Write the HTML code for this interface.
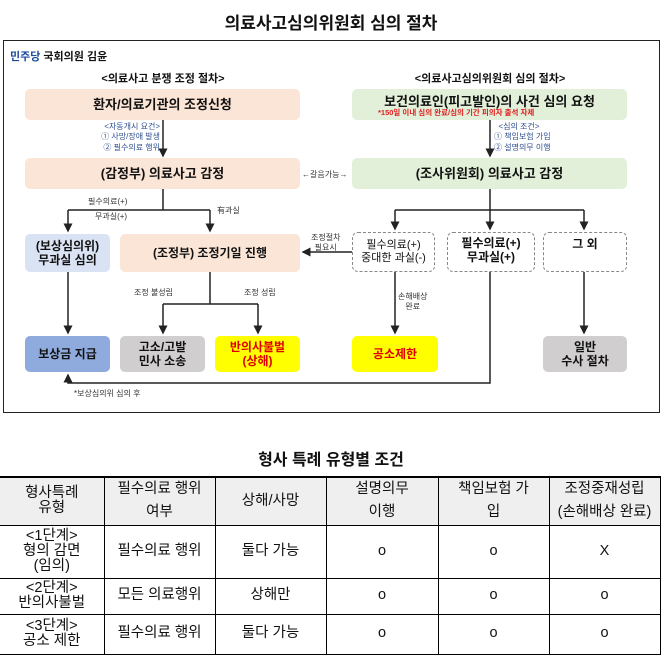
<!DOCTYPE html>
<html><head><meta charset="utf-8"><style>
*{margin:0;padding:0;box-sizing:border-box}
body{width:662px;height:652px;background:#fff;position:relative;overflow:hidden;font-family:"Liberation Sans","Noto Sans CJK KR",sans-serif;color:#111}
.a{position:absolute}
.b{position:absolute;display:flex;align-items:center;justify-content:center;text-align:center;font-weight:bold;border-radius:5px;line-height:1.2}
.pe{background:#fbe5d6}.gr{background:#e2f0d9}
.d{border:1.3px dashed #888;background:#fff;border-radius:6px}
.s{position:absolute;font-size:8px;color:#333;text-align:center;line-height:1.3;white-space:nowrap}
.bl{color:#2f4f8f}
table{position:absolute;left:0;top:476px;width:660px;border-collapse:collapse;font-size:14.5px;table-layout:fixed}
td{border:1px solid #000;text-align:center;line-height:1.05;padding:0;overflow:hidden}
tr.h td{background:#efefef;height:48px}
</style></head><body>
<div class="a" style="left:0;width:662px;top:9px;text-align:center;font-size:17px;font-weight:bold">의료사고심의위원회 심의 절차</div>
<div class="a" style="left:3px;top:40px;width:657px;height:373px;border:1.3px solid #222"></div>
<div class="a" style="left:10px;top:48px;font-size:11px;font-weight:bold"><span style="color:#1a4a9c">민주당</span> 국회의원 김윤</div>
<div class="a" style="left:63px;width:200px;top:70px;text-align:center;font-size:11px;font-weight:bold">&lt;의료사고 분쟁 조정 절차&gt;</div>
<div class="a" style="left:360px;width:260px;top:70px;text-align:center;font-size:11px;font-weight:bold">&lt;의료사고심의위원회 심의 절차&gt;</div>

<div class="b pe" style="left:25px;top:89px;width:275px;height:31px;font-size:13px">환자/의료기관의 조정신청</div>
<div class="b gr" style="left:352px;top:89px;width:275px;height:31px;font-size:13px;align-items:flex-start;padding-top:5px">보건의료인(피고발인)의 사건 심의 요청</div>
<div class="s" style="left:378px;top:108px;color:#e02020;font-weight:bold;font-size:7.5px">*150일 이내 심의 완료/심의 기간 피의자 출석 자제</div>
<div class="b pe" style="left:25px;top:158px;width:275px;height:31px;font-size:13px">(감정부) 의료사고 감정</div>
<div class="b gr" style="left:352px;top:158px;width:275px;height:31px;font-size:13px">(조사위원회) 의료사고 감정</div>
<div class="s" style="left:302px;top:170px">←갈음가능→</div>

<div class="s bl" style="left:88px;top:122px;text-align:right;width:72px">&lt;자동개시 요건&gt;<br>① 사망/장애 발생<br>② 필수의료 행위</div>
<div class="s bl" style="left:494px;top:122px;text-align:left">&nbsp;&nbsp;&lt;심의 조건&gt;<br>① 책임보험 가입<br>② 설명의무 이행</div>

<div class="s" style="left:88px;top:197px">필수의료(+)</div>
<div class="s" style="left:95px;top:212px">무과실(+)</div>
<div class="s" style="left:217px;top:206px">有과실</div>

<div class="b" style="left:25px;top:234px;width:85px;height:38px;background:#dae3f3;font-size:12px">(보상심의위)<br>무과실 심의</div>
<div class="b pe" style="left:120px;top:234px;width:180px;height:38px;font-size:12px">(조정부) 조정기일 진행</div>
<div class="b d" style="left:352px;top:232px;width:83px;height:40px;font-size:11px;font-weight:normal">필수의료(+)<br>중대한 과실(-)</div>
<div class="b d" style="left:447px;top:232px;width:88px;height:40px;font-size:12px;align-items:flex-start;padding-top:3px">필수의료(+)<br>무과실(+)</div>
<div class="b d" style="left:543px;top:232px;width:84px;height:40px;font-size:12px;align-items:flex-start;padding-top:4px">그 외</div>
<div class="s" style="left:311px;top:233px">조정절차<br>필요시</div>

<div class="s" style="left:134px;top:288px">조정 불성립</div>
<div class="s" style="left:244px;top:288px">조정 성립</div>
<div class="s" style="left:398px;top:292px">손해배상<br>완료</div>

<div class="b" style="left:25px;top:336px;width:85px;height:36px;background:#8faadc;font-size:12px">보상금 지급</div>
<div class="b" style="left:120px;top:336px;width:85px;height:36px;background:#d0cece;font-size:12px">고소/고발<br>민사 소송</div>
<div class="b" style="left:215px;top:336px;width:85px;height:36px;background:#ffff00;color:#e00000;font-size:12px">반의사불벌<br>(상해)</div>
<div class="b" style="left:352px;top:336px;width:86px;height:36px;background:#ffff00;color:#e00000;font-size:12px">공소제한</div>
<div class="b" style="left:543px;top:336px;width:84px;height:36px;background:#d0cece;font-size:12px">일반<br>수사 절차</div>
<div class="s" style="left:74px;top:389px">*보상심의위 심의 후</div>

<svg class="a" style="left:0;top:0" width="662" height="420">
<defs><marker id="m" markerWidth="6" markerHeight="6" refX="5" refY="3" orient="auto"><path d="M0,0L6,3L0,6z" fill="#222"/></marker></defs>
<g stroke="#222" stroke-width="1.5" fill="none">
<path d="M163 120V156" marker-end="url(#m)"/>
<path d="M490 120V156" marker-end="url(#m)"/>
<path d="M163 189V210M68 210H210"/>
<path d="M68 210V231" marker-end="url(#m)"/>
<path d="M210 210V231" marker-end="url(#m)"/>
<path d="M490 189V210M395 210H584"/>
<path d="M395 210V229" marker-end="url(#m)"/>
<path d="M490 210V229" marker-end="url(#m)"/>
<path d="M584 210V229" marker-end="url(#m)"/>
<path d="M352 252H303" marker-end="url(#m)"/>
<path d="M68 272V333" marker-end="url(#m)"/>
<path d="M210 272V304M163 304H258"/>
<path d="M163 304V333" marker-end="url(#m)"/>
<path d="M258 304V333" marker-end="url(#m)"/>
<path d="M395 272V333" marker-end="url(#m)"/>
<path d="M584 272V333" marker-end="url(#m)"/>
<path d="M490 272V383H68V375" marker-end="url(#m)"/>
</g></svg>

<div class="a" style="left:0;width:662px;top:446px;text-align:center;font-size:16px;font-weight:bold">형사 특례 유형별 조건</div>
<table>
<colgroup><col style="width:104px"><col style="width:111px"><col style="width:111px"><col style="width:112px"><col style="width:111px"><col style="width:111px"></colgroup>
<tr class="h" style="border-top:2px solid #000"><td style="border-left:none">형사특례<br>유형</td><td style="line-height:1.6">필수의료 행위<br>여부</td><td>상해/사망</td><td style="line-height:1.6">설명의무<br>이행</td><td style="line-height:1.6">책임보험 가<br>입</td><td style="line-height:1.6">조정중재성립<br>(손해배상 완료)</td></tr>
<tr style="height:53px"><td style="border-left:none">&lt;1단계&gt;<br>형의 감면<br>(임의)</td><td>필수의료 행위</td><td>둘다 가능</td><td>o</td><td>o</td><td>X</td></tr>
<tr style="height:36px"><td style="border-left:none">&lt;2단계&gt;<br>반의사불벌</td><td>모든 의료행위</td><td>상해만</td><td>o</td><td>o</td><td>o</td></tr>
<tr style="height:40px"><td style="border-left:none">&lt;3단계&gt;<br>공소 제한</td><td>필수의료 행위</td><td>둘다 가능</td><td>o</td><td>o</td><td>o</td></tr>
</table>
</body></html>
